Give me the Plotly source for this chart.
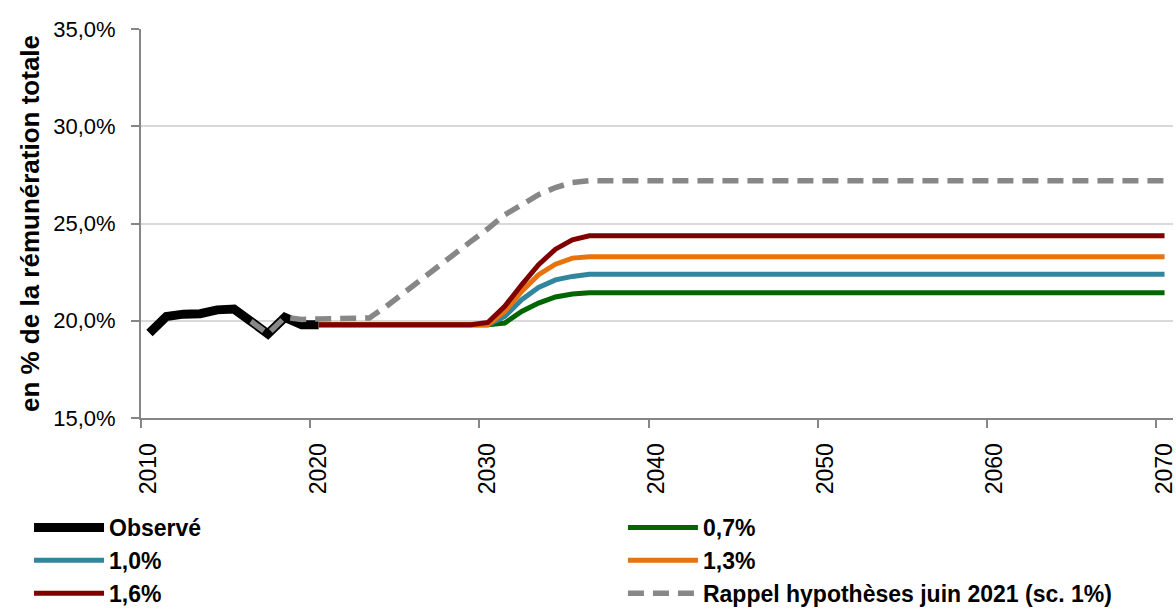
import plotly.graph_objects as go

# ---- data (values in % of total remuneration) ----
years_obs = list(range(2010, 2021))
observe = [19.37, 20.22, 20.34, 20.36, 20.56, 20.60, 19.97, 19.33, 20.17, 19.79, 19.79]

years_scen = list(range(2020, 2071))
sc_07 = [19.79, 19.79, 19.79, 19.79, 19.79, 19.79, 19.79, 19.79, 19.79, 19.79,
         19.79, 19.88, 20.48, 20.91, 21.22, 21.37, 21.44, 21.44, 21.44, 21.44,
         21.44, 21.44, 21.44, 21.44, 21.44, 21.44, 21.44, 21.44, 21.44, 21.44,
         21.44, 21.44, 21.44, 21.44, 21.44, 21.44, 21.44, 21.44, 21.44, 21.44,
         21.44, 21.44, 21.44, 21.44, 21.44, 21.44, 21.44, 21.44, 21.44, 21.44,
         21.44]
sc_10 = [19.79, 19.79, 19.79, 19.79, 19.79, 19.79, 19.79, 19.79, 19.79, 19.79,
         19.79, 20.22, 21.08, 21.71, 22.10, 22.28, 22.39, 22.39, 22.39, 22.39,
         22.39, 22.39, 22.39, 22.39, 22.39, 22.39, 22.39, 22.39, 22.39, 22.39,
         22.39, 22.39, 22.39, 22.39, 22.39, 22.39, 22.39, 22.39, 22.39, 22.39,
         22.39, 22.39, 22.39, 22.39, 22.39, 22.39, 22.39, 22.39, 22.39, 22.39,
         22.39]
sc_13 = [19.79, 19.79, 19.79, 19.79, 19.79, 19.79, 19.79, 19.79, 19.79, 19.79,
         19.79, 20.48, 21.51, 22.37, 22.91, 23.22, 23.29, 23.29, 23.29, 23.29,
         23.29, 23.29, 23.29, 23.29, 23.29, 23.29, 23.29, 23.29, 23.29, 23.29,
         23.29, 23.29, 23.29, 23.29, 23.29, 23.29, 23.29, 23.29, 23.29, 23.29,
         23.29, 23.29, 23.29, 23.29, 23.29, 23.29, 23.29, 23.29, 23.29, 23.29,
         23.29]
sc_16 = [19.79, 19.79, 19.79, 19.79, 19.79, 19.79, 19.79, 19.79, 19.79, 19.79,
         19.91, 20.74, 21.85, 22.88, 23.68, 24.16, 24.37, 24.37, 24.37, 24.37,
         24.37, 24.37, 24.37, 24.37, 24.37, 24.37, 24.37, 24.37, 24.37, 24.37,
         24.37, 24.37, 24.37, 24.37, 24.37, 24.37, 24.37, 24.37, 24.37, 24.37,
         24.37, 24.37, 24.37, 24.37, 24.37, 24.37, 24.37, 24.37, 24.37, 24.37,
         24.37]

years_rappel = list(range(2016, 2071))
rappel = [19.97, 19.33, 20.17, 20.07, 20.09, 20.09, 20.09, 20.14, 20.74, 21.42,
          22.10, 22.76, 23.43, 24.08, 24.73, 25.45, 25.96, 26.48, 26.85, 27.11,
          27.20, 27.20, 27.20, 27.20, 27.20, 27.20, 27.20, 27.20, 27.20, 27.20,
          27.20, 27.20, 27.20, 27.20, 27.20, 27.20, 27.20, 27.20, 27.20, 27.20,
          27.20, 27.20, 27.20, 27.20, 27.20, 27.20, 27.20, 27.20, 27.20, 27.20,
          27.20, 27.20, 27.20, 27.20, 27.20]

series_names = ["Observé", "0,7%", "1,0%", "1,3%", "1,6%",
                "Rappel hypothèses juin 2021 (sc. 1%)"]
x_tick_years = [2010, 2020, 2030, 2040, 2050, 2060, 2070]
y_ticks = [0.15, 0.20, 0.25, 0.30, 0.35]

FONT = "Liberation Sans, Arial, sans-serif"


def frac(v):
    return [a / 100.0 for a in v]


fig = go.Figure()
fig.add_trace(go.Scatter(x=years_obs, y=frac(observe), mode="lines",
                         name=series_names[0], legend="legend", legendrank=1,
                         line=dict(color="#000000", width=9)))
fig.add_trace(go.Scatter(x=years_scen, y=frac(sc_07), mode="lines",
                         name=series_names[1], legend="legend2", legendrank=1,
                         line=dict(color="#006600", width=5)))
fig.add_trace(go.Scatter(x=years_scen, y=frac(sc_10), mode="lines",
                         name=series_names[2], legend="legend", legendrank=2,
                         line=dict(color="#31859c", width=5)))
fig.add_trace(go.Scatter(x=years_scen, y=frac(sc_13), mode="lines",
                         name=series_names[3], legend="legend2", legendrank=2,
                         line=dict(color="#e8720c", width=5)))
fig.add_trace(go.Scatter(x=years_scen, y=frac(sc_16), mode="lines",
                         name=series_names[4], legend="legend", legendrank=3,
                         line=dict(color="#800000", width=5)))
fig.add_trace(go.Scatter(x=years_rappel, y=frac(rappel), mode="lines",
                         name=series_names[5], legend="legend2", legendrank=3,
                         line=dict(color="#878787", width=5.5, dash="16px,9px")))

legend_common = dict(
    orientation="v",
    xref="paper", yref="container",
    xanchor="left", yanchor="top",
    itemwidth=70,
    font=dict(size=23, family=FONT, weight="bold"),
    traceorder="normal",
    bgcolor="rgba(0,0,0,0)",
    borderwidth=0,
)

fig.update_layout(
    width=1176, height=608,
    margin=dict(l=141, r=3, t=29, b=190),
    paper_bgcolor="white", plot_bgcolor="white",
    separators=", ",
    font=dict(family=FONT, color="#000000"),
    showlegend=True,
    legend=dict(legend_common, x=-0.1085, y=1 - 506 / 608),
    legend2=dict(legend_common, x=0.467, y=1 - 506 / 608),
)

fig.update_xaxes(
    range=[2009.5, 2070.5],
    tickmode="array",
    tickvals=[v - 0.5 for v in x_tick_years],
    ticktext=[str(v) for v in x_tick_years],
    ticklabelshift=8,
    ticklabeloverflow="allow",
    tickangle=-90,
    ticks="outside", ticklen=8, tickcolor="#868686", tickwidth=2,
    tickfont=dict(size=23, family=FONT),
    showline=True, linecolor="#868686", linewidth=2,
    showgrid=False, zeroline=False,
    ticklabelstandoff=6,
    automargin=False,
)
fig.update_yaxes(
    range=[0.15, 0.35],
    tickmode="array",
    tickvals=y_ticks,
    tickformat=".1%",
    ticks="outside", ticklen=8, tickcolor="#868686", tickwidth=2,
    tickfont=dict(size=22, family=FONT),
    showline=True, linecolor="#868686", linewidth=2,
    showgrid=True, gridcolor="#d9d9d9", gridwidth=2,
    zeroline=False,
    ticklabelstandoff=11,
    automargin=False,
    title=dict(text="en % de la rémunération totale",
               font=dict(size=26, family=FONT, weight="bold"),
               standoff=6),
)

fig.write_html(
    "out.html",
    config={"displayModeBar": False},
    post_script="document.body.style.margin='0';document.body.style.padding='0';",
)
